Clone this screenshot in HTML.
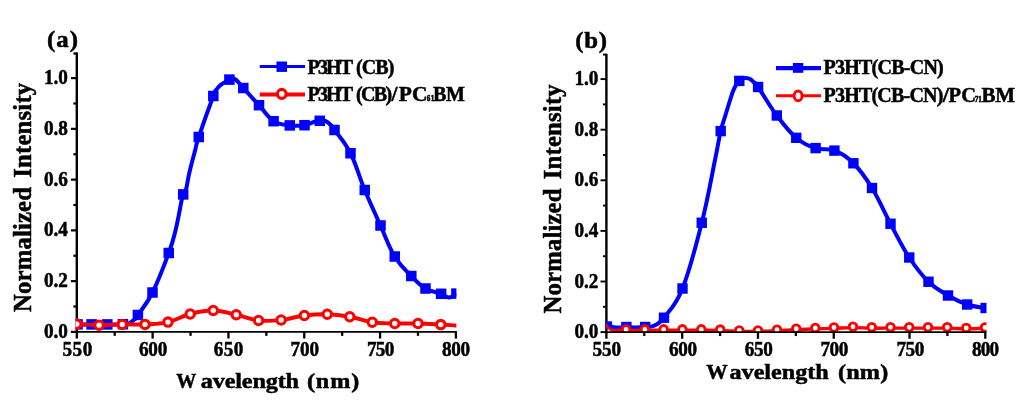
<!DOCTYPE html>
<html><head><meta charset="utf-8"><title>PL spectra</title>
<style>
html,body{margin:0;padding:0;background:#fff;}
body{width:1024px;height:416px;overflow:hidden;font-family:"Liberation Serif",serif;}
svg{display:block;will-change:transform;}
text{font-family:"Liberation Serif",serif;font-weight:bold;fill:#000;font-kerning:none;}
</style></head><body>
<svg width="1024" height="416" viewBox="0 0 1024 416">
<rect width="1024" height="416" fill="#fff"/>
<line x1="76.80" y1="52.45" x2="76.80" y2="333.10" stroke="#000" stroke-width="2.40"/>
<clipPath id="clipa"><rect x="75.60" y="52.45" width="380.80" height="279.45"/></clipPath>
<g clip-path="url(#clipa)">
<path d="M77.50 324.40 C80.32 324.40 85.64 324.40 91.60 324.40 C97.56 324.40 101.04 324.44 107.30 324.40 C113.56 324.36 118.56 324.42 122.90 324.20 C127.24 323.98 126.88 324.10 129.00 323.30 C131.12 322.50 131.72 321.86 133.50 320.20 C135.28 318.54 134.10 320.54 137.90 315.00 C141.70 309.46 146.33 304.90 152.50 292.50 C158.67 280.10 164.13 265.50 168.75 253.00 C173.37 240.50 172.99 240.70 175.60 230.00 C178.21 219.30 180.28 206.62 181.80 199.50 C183.32 192.38 182.34 196.50 183.20 194.40 C184.06 192.30 184.88 193.28 186.10 189.00 C187.32 184.72 187.48 180.80 189.30 173.00 C191.12 165.20 193.31 157.20 195.20 150.00 C197.09 142.80 195.13 147.80 198.75 137.00 C202.37 126.20 209.79 105.40 213.30 96.00 C216.81 86.60 215.06 92.00 216.30 90.00 C217.54 88.00 217.92 87.48 219.50 86.00 C221.08 84.52 222.22 83.88 224.20 82.60 C226.18 81.32 227.74 80.42 229.40 79.60 C231.06 78.78 231.28 78.52 232.50 78.50 C233.72 78.48 234.20 78.60 235.50 79.50 C236.80 80.40 237.44 81.30 239.00 83.00 C240.56 84.70 239.30 83.56 243.30 88.00 C247.30 92.44 252.94 98.56 259.00 105.20 C265.06 111.84 267.44 117.16 273.60 121.20 C279.76 125.24 283.62 124.60 289.80 125.40 C295.98 126.20 299.66 125.92 304.50 125.20 C309.34 124.48 310.95 122.68 314.00 121.80 C317.05 120.92 317.49 120.98 319.75 120.80 C322.01 120.62 323.25 120.20 325.30 120.90 C327.35 121.60 328.16 122.48 330.00 124.30 C331.84 126.12 330.40 124.21 334.50 130.00 C338.60 135.79 344.45 141.25 350.50 153.25 C356.55 165.25 358.75 175.55 364.75 190.00 C370.75 204.45 374.50 212.20 380.50 225.50 C386.50 238.80 388.59 246.40 394.75 256.50 C400.91 266.60 405.15 269.60 411.30 276.00 C417.45 282.40 419.54 284.94 425.50 288.50 C431.46 292.06 436.40 291.98 441.10 293.80 C445.80 295.62 445.94 297.64 449.00 297.60 C452.06 297.56 454.92 294.40 456.40 293.60" fill="none" stroke="#0000ff" stroke-width="4.00" stroke-linejoin="round"/>
<rect x="72.25" y="319.15" width="10.50" height="10.50" fill="#0000ff"/>
<rect x="86.35" y="319.15" width="10.50" height="10.50" fill="#0000ff"/>
<rect x="102.05" y="319.15" width="10.50" height="10.50" fill="#0000ff"/>
<rect x="117.65" y="318.95" width="10.50" height="10.50" fill="#0000ff"/>
<rect x="132.65" y="309.75" width="10.50" height="10.50" fill="#0000ff"/>
<rect x="147.25" y="287.25" width="10.50" height="10.50" fill="#0000ff"/>
<rect x="163.50" y="247.75" width="10.50" height="10.50" fill="#0000ff"/>
<rect x="177.95" y="189.15" width="10.50" height="10.50" fill="#0000ff"/>
<rect x="193.50" y="131.75" width="10.50" height="10.50" fill="#0000ff"/>
<rect x="208.05" y="90.75" width="10.50" height="10.50" fill="#0000ff"/>
<rect x="224.15" y="74.35" width="10.50" height="10.50" fill="#0000ff"/>
<rect x="238.05" y="82.75" width="10.50" height="10.50" fill="#0000ff"/>
<rect x="253.75" y="99.95" width="10.50" height="10.50" fill="#0000ff"/>
<rect x="268.35" y="115.95" width="10.50" height="10.50" fill="#0000ff"/>
<rect x="284.55" y="120.15" width="10.50" height="10.50" fill="#0000ff"/>
<rect x="299.25" y="119.95" width="10.50" height="10.50" fill="#0000ff"/>
<rect x="314.50" y="115.55" width="10.50" height="10.50" fill="#0000ff"/>
<rect x="329.25" y="124.75" width="10.50" height="10.50" fill="#0000ff"/>
<rect x="345.25" y="148.00" width="10.50" height="10.50" fill="#0000ff"/>
<rect x="359.50" y="184.75" width="10.50" height="10.50" fill="#0000ff"/>
<rect x="375.25" y="220.25" width="10.50" height="10.50" fill="#0000ff"/>
<rect x="389.50" y="251.25" width="10.50" height="10.50" fill="#0000ff"/>
<rect x="406.05" y="270.75" width="10.50" height="10.50" fill="#0000ff"/>
<rect x="420.25" y="283.25" width="10.50" height="10.50" fill="#0000ff"/>
<rect x="435.85" y="288.55" width="10.50" height="10.50" fill="#0000ff"/>
<rect x="451.15" y="288.35" width="10.50" height="10.50" fill="#0000ff"/>
<path d="M76.80 324.10 C81.26 324.32 90.00 325.14 99.10 325.20 C108.20 325.26 113.12 324.56 122.30 324.40 C131.48 324.24 135.86 324.86 145.00 324.40 C154.14 323.94 158.96 324.18 168.00 322.10 C177.04 320.02 181.15 316.32 190.20 314.00 C199.25 311.68 204.04 310.35 213.25 310.50 C222.46 310.65 227.18 312.75 236.25 314.75 C245.32 316.75 249.63 319.45 258.60 320.50 C267.57 321.55 271.94 321.00 281.10 320.00 C290.26 319.00 295.17 316.65 304.40 315.50 C313.63 314.35 318.18 314.00 327.25 314.25 C336.32 314.50 340.75 315.15 349.75 316.75 C358.75 318.35 363.25 320.90 372.25 322.25 C381.25 323.60 385.60 323.25 394.75 323.50 C403.90 323.75 408.79 323.28 418.00 323.50 C427.21 323.72 433.00 324.18 440.80 324.60 C448.60 325.02 453.76 325.40 457.00 325.60" fill="none" stroke="#ff0000" stroke-width="3.90" stroke-linejoin="round"/>
<circle cx="76.80" cy="324.10" r="4.20" fill="#fff" stroke="#ff0000" stroke-width="3.10"/>
<circle cx="99.10" cy="325.20" r="4.20" fill="#fff" stroke="#ff0000" stroke-width="3.10"/>
<circle cx="122.30" cy="324.40" r="4.20" fill="#fff" stroke="#ff0000" stroke-width="3.10"/>
<circle cx="145.00" cy="324.40" r="4.20" fill="#fff" stroke="#ff0000" stroke-width="3.10"/>
<circle cx="168.00" cy="322.10" r="4.20" fill="#fff" stroke="#ff0000" stroke-width="3.10"/>
<circle cx="190.20" cy="314.00" r="4.20" fill="#fff" stroke="#ff0000" stroke-width="3.10"/>
<circle cx="213.25" cy="310.50" r="4.20" fill="#fff" stroke="#ff0000" stroke-width="3.10"/>
<circle cx="236.25" cy="314.75" r="4.20" fill="#fff" stroke="#ff0000" stroke-width="3.10"/>
<circle cx="258.60" cy="320.50" r="4.20" fill="#fff" stroke="#ff0000" stroke-width="3.10"/>
<circle cx="281.10" cy="320.00" r="4.20" fill="#fff" stroke="#ff0000" stroke-width="3.10"/>
<circle cx="304.40" cy="315.50" r="4.20" fill="#fff" stroke="#ff0000" stroke-width="3.10"/>
<circle cx="327.25" cy="314.25" r="4.20" fill="#fff" stroke="#ff0000" stroke-width="3.10"/>
<circle cx="349.75" cy="316.75" r="4.20" fill="#fff" stroke="#ff0000" stroke-width="3.10"/>
<circle cx="372.25" cy="322.25" r="4.20" fill="#fff" stroke="#ff0000" stroke-width="3.10"/>
<circle cx="394.75" cy="323.50" r="4.20" fill="#fff" stroke="#ff0000" stroke-width="3.10"/>
<circle cx="418.00" cy="323.50" r="4.20" fill="#fff" stroke="#ff0000" stroke-width="3.10"/>
<circle cx="440.80" cy="324.60" r="4.20" fill="#fff" stroke="#ff0000" stroke-width="3.10"/>
</g>
<line x1="75.60" y1="331.90" x2="456.90" y2="331.90" stroke="#000" stroke-width="1.90"/>
<line x1="70.90" y1="331.90" x2="76.80" y2="331.90" stroke="#000" stroke-width="2.20"/>
<text transform="translate(44.00 337.90) scale(0.9600 1)" font-size="20.00" textLength="24.84" lengthAdjust="spacing" stroke="#000" stroke-width="0.50">0.0</text>
<line x1="73.40" y1="306.52" x2="76.80" y2="306.52" stroke="#000" stroke-width="2.20"/>
<line x1="70.90" y1="281.14" x2="76.80" y2="281.14" stroke="#000" stroke-width="2.20"/>
<text transform="translate(44.00 287.14) scale(0.9600 1)" font-size="20.00" textLength="24.84" lengthAdjust="spacing" stroke="#000" stroke-width="0.50">0.2</text>
<line x1="73.40" y1="255.76" x2="76.80" y2="255.76" stroke="#000" stroke-width="2.20"/>
<line x1="70.90" y1="230.38" x2="76.80" y2="230.38" stroke="#000" stroke-width="2.20"/>
<text transform="translate(44.00 236.38) scale(0.9600 1)" font-size="20.00" textLength="24.84" lengthAdjust="spacing" stroke="#000" stroke-width="0.50">0.4</text>
<line x1="73.40" y1="205.00" x2="76.80" y2="205.00" stroke="#000" stroke-width="2.20"/>
<line x1="70.90" y1="179.62" x2="76.80" y2="179.62" stroke="#000" stroke-width="2.20"/>
<text transform="translate(44.00 185.62) scale(0.9600 1)" font-size="20.00" textLength="24.84" lengthAdjust="spacing" stroke="#000" stroke-width="0.50">0.6</text>
<line x1="73.40" y1="154.24" x2="76.80" y2="154.24" stroke="#000" stroke-width="2.20"/>
<line x1="70.90" y1="128.86" x2="76.80" y2="128.86" stroke="#000" stroke-width="2.20"/>
<text transform="translate(44.00 134.86) scale(0.9600 1)" font-size="20.00" textLength="24.84" lengthAdjust="spacing" stroke="#000" stroke-width="0.50">0.8</text>
<line x1="73.40" y1="103.48" x2="76.80" y2="103.48" stroke="#000" stroke-width="2.20"/>
<line x1="70.90" y1="78.10" x2="76.80" y2="78.10" stroke="#000" stroke-width="2.20"/>
<text transform="translate(44.00 84.10) scale(0.9600 1)" font-size="20.00" textLength="24.84" lengthAdjust="spacing" stroke="#000" stroke-width="0.50">1.0</text>
<line x1="73.40" y1="53.50" x2="76.80" y2="53.50" stroke="#000" stroke-width="2.20"/>
<line x1="76.80" y1="331.90" x2="76.80" y2="338.55" stroke="#000" stroke-width="2.30"/>
<line x1="114.71" y1="331.90" x2="114.71" y2="335.85" stroke="#000" stroke-width="2.30"/>
<line x1="152.62" y1="331.90" x2="152.62" y2="338.55" stroke="#000" stroke-width="2.30"/>
<line x1="190.53" y1="331.90" x2="190.53" y2="335.85" stroke="#000" stroke-width="2.30"/>
<line x1="228.44" y1="331.90" x2="228.44" y2="338.55" stroke="#000" stroke-width="2.30"/>
<line x1="266.35" y1="331.90" x2="266.35" y2="335.85" stroke="#000" stroke-width="2.30"/>
<line x1="304.26" y1="331.90" x2="304.26" y2="338.55" stroke="#000" stroke-width="2.30"/>
<line x1="342.17" y1="331.90" x2="342.17" y2="335.85" stroke="#000" stroke-width="2.30"/>
<line x1="380.08" y1="331.90" x2="380.08" y2="338.55" stroke="#000" stroke-width="2.30"/>
<line x1="417.99" y1="331.90" x2="417.99" y2="335.85" stroke="#000" stroke-width="2.30"/>
<line x1="455.90" y1="331.90" x2="455.90" y2="338.55" stroke="#000" stroke-width="2.30"/>
<text transform="translate(47.05 46.90) scale(1.0800 1)" font-size="23.00" textLength="28.61" lengthAdjust="spacing" stroke="#000" stroke-width="0.50">(a)</text>
<text transform="translate(307.50 73.75)" font-size="20.00" textLength="45.65" lengthAdjust="spacing" stroke="#000" stroke-width="0.50">P3HT</text>
<text transform="translate(356.00 73.75)" font-size="20.00" textLength="38.50" lengthAdjust="spacing" stroke="#000" stroke-width="0.50">(CB)</text>
<text transform="translate(307.50 100.90)" font-size="20.00" textLength="45.65" lengthAdjust="spacing" stroke="#000" stroke-width="0.50">P3HT</text>
<text transform="translate(356.00 100.90)" font-size="20.00" textLength="36.25" lengthAdjust="spacing" stroke="#000" stroke-width="0.50">(CB)</text>
<text transform="translate(391.50 100.90) scale(1.0769 1)" font-size="20.00" stroke="#000" stroke-width="0.50">/</text>
<text transform="translate(398.80 100.90) scale(1.0700 1)" font-size="20.00" textLength="26.87" lengthAdjust="spacing" stroke="#000" stroke-width="0.50">PC</text>
<text transform="translate(426.70 101.20)" font-size="7.20" textLength="7.60" lengthAdjust="spacing" stroke="#000" stroke-width="0.50">61</text>
<text transform="translate(432.90 100.90)" font-size="20.00" textLength="32.00" lengthAdjust="spacing" stroke="#000" stroke-width="0.50">BM</text>
<text transform="translate(176.25 388.20) scale(0.9107 1)" font-size="22.00" stroke="#000" stroke-width="0.50">W</text>
<text transform="translate(200.75 388.20) scale(1.1000 1)" font-size="22.00" textLength="89.32" lengthAdjust="spacing" stroke="#000" stroke-width="0.50">avelength</text>
<text transform="translate(306.95 388.20) scale(1.1000 1)" font-size="22.00" textLength="47.50" lengthAdjust="spacing" stroke="#000" stroke-width="0.50">(nm)</text>
<text transform="translate(62.50 356.00) scale(0.9600 1)" font-size="20.00" textLength="30.99" lengthAdjust="spacing" stroke="#000" stroke-width="0.50">550</text>
<text transform="translate(139.00 356.00) scale(0.9600 1)" font-size="20.00" textLength="29.43" lengthAdjust="spacing" stroke="#000" stroke-width="0.50">600</text>
<text transform="translate(213.80 356.00) scale(0.9600 1)" font-size="20.00" textLength="30.73" lengthAdjust="spacing" stroke="#000" stroke-width="0.50">650</text>
<text transform="translate(290.55 356.00) scale(0.9600 1)" font-size="20.00" textLength="29.64" lengthAdjust="spacing" stroke="#000" stroke-width="0.50">700</text>
<text transform="translate(367.05 356.00) scale(0.9600 1)" font-size="20.00" textLength="28.39" lengthAdjust="spacing" stroke="#000" stroke-width="0.50">750</text>
<text transform="translate(442.10 356.00) scale(0.9600 1)" font-size="20.00" textLength="29.22" lengthAdjust="spacing" stroke="#000" stroke-width="0.50">800</text>
<text transform="translate(31.00 312.00) rotate(-90) scale(0.9500 1)" font-size="26.00" textLength="131.58" lengthAdjust="spacing" stroke="#000" stroke-width="0.50">Normalized</text>
<text transform="translate(31.00 177.80) rotate(-90) scale(0.9500 1)" font-size="26.00" textLength="100.00" lengthAdjust="spacing" stroke="#000" stroke-width="0.50">Intensity</text>
<line x1="259.75" y1="66.50" x2="305.00" y2="66.50" stroke="#0000ff" stroke-width="3.00"/>
<rect x="276.47" y="61.50" width="10.60" height="10.40" fill="#0000ff"/>
<line x1="259.75" y1="94.50" x2="305.00" y2="94.50" stroke="#ff0000" stroke-width="4.00"/>
<ellipse cx="281.77" cy="93.90" rx="4.35" ry="4.45" fill="#fff" stroke="#ff0000" stroke-width="3.20"/>
<line x1="606.40" y1="53.65" x2="606.40" y2="333.30" stroke="#000" stroke-width="2.40"/>
<clipPath id="clipb"><rect x="605.90" y="53.65" width="380.60" height="278.45"/></clipPath>
<g clip-path="url(#clipb)">
<path d="M606.90 325.10 C607.72 325.40 609.18 326.12 611.00 326.60 C612.82 327.08 614.00 327.34 616.00 327.50 C618.00 327.66 618.92 327.50 621.00 327.40 C623.08 327.30 623.40 327.00 626.40 327.00 C629.40 327.00 632.24 327.40 636.00 327.40 C639.76 327.40 642.00 327.20 645.20 327.00 C648.40 326.80 649.64 326.96 652.00 326.40 C654.36 325.84 655.30 325.20 657.00 324.20 C658.70 323.20 659.10 322.70 660.50 321.40 C661.90 320.10 659.60 324.28 664.00 317.70 C668.40 311.12 674.95 307.49 682.50 288.50 C690.05 269.51 695.25 248.45 701.75 222.75 C708.25 197.05 711.21 178.33 715.00 160.00 C718.79 141.67 718.56 140.22 720.70 131.10 C722.84 121.98 723.82 120.62 725.70 114.40 C727.58 108.18 728.58 104.78 730.10 100.00 C731.62 95.22 732.06 93.58 733.30 90.50 C734.54 87.42 735.10 86.52 736.30 84.60 C737.50 82.68 738.06 82.10 739.30 80.90 C740.54 79.70 741.16 79.20 742.50 78.60 C743.84 78.00 744.50 77.82 746.00 77.90 C747.50 77.98 748.40 78.06 750.00 79.00 C751.60 79.94 752.38 81.00 754.00 82.60 C755.62 84.20 753.54 80.42 758.10 87.00 C762.66 93.58 769.17 105.34 776.80 115.50 C784.43 125.66 788.49 131.28 796.25 137.80 C804.01 144.32 807.97 145.54 815.60 148.10 C823.23 150.66 826.84 147.57 834.40 150.60 C841.96 153.63 845.88 155.77 853.40 163.25 C860.92 170.73 864.58 175.90 872.00 188.00 C879.42 200.10 883.05 209.85 890.50 223.75 C897.95 237.65 901.65 245.90 909.25 257.50 C916.85 269.10 920.75 274.15 928.50 281.75 C936.25 289.35 940.26 290.95 948.00 295.50 C955.74 300.05 959.68 302.00 967.20 304.50 C974.72 307.00 981.92 307.30 985.60 308.00" fill="none" stroke="#0000ff" stroke-width="4.00" stroke-linejoin="round"/>
<rect x="601.70" y="321.30" width="10.40" height="7.60" fill="#0000ff"/>
<rect x="621.20" y="321.80" width="10.40" height="10.40" fill="#0000ff"/>
<rect x="640.00" y="321.80" width="10.40" height="10.40" fill="#0000ff"/>
<rect x="658.80" y="312.50" width="10.40" height="10.40" fill="#0000ff"/>
<rect x="677.30" y="283.30" width="10.40" height="10.40" fill="#0000ff"/>
<rect x="696.55" y="217.55" width="10.40" height="10.40" fill="#0000ff"/>
<rect x="715.50" y="125.90" width="10.40" height="10.40" fill="#0000ff"/>
<rect x="734.10" y="75.70" width="10.40" height="10.40" fill="#0000ff"/>
<rect x="752.90" y="81.80" width="10.40" height="10.40" fill="#0000ff"/>
<rect x="771.60" y="110.30" width="10.40" height="10.40" fill="#0000ff"/>
<rect x="791.05" y="132.60" width="10.40" height="10.40" fill="#0000ff"/>
<rect x="810.40" y="142.90" width="10.40" height="10.40" fill="#0000ff"/>
<rect x="829.20" y="145.40" width="10.40" height="10.40" fill="#0000ff"/>
<rect x="848.20" y="158.05" width="10.40" height="10.40" fill="#0000ff"/>
<rect x="866.80" y="182.80" width="10.40" height="10.40" fill="#0000ff"/>
<rect x="885.30" y="218.55" width="10.40" height="10.40" fill="#0000ff"/>
<rect x="904.05" y="252.30" width="10.40" height="10.40" fill="#0000ff"/>
<rect x="923.30" y="276.55" width="10.40" height="10.40" fill="#0000ff"/>
<rect x="942.80" y="290.30" width="10.40" height="10.40" fill="#0000ff"/>
<rect x="962.00" y="299.30" width="10.40" height="10.40" fill="#0000ff"/>
<rect x="980.40" y="302.80" width="10.40" height="10.40" fill="#0000ff"/>
<path d="M613.00 330.40 C615.62 330.40 619.72 330.42 626.10 330.40 C632.48 330.38 637.40 330.32 644.90 330.30 C652.40 330.28 656.10 330.30 663.60 330.30 C671.10 330.30 674.86 330.30 682.40 330.30 C689.94 330.30 693.74 330.26 701.30 330.30 C708.86 330.34 712.61 330.28 720.20 330.50 C727.79 330.72 731.69 331.22 739.25 331.40 C746.81 331.58 750.45 331.55 758.00 331.40 C765.55 331.25 769.35 331.00 777.00 330.65 C784.65 330.30 788.59 330.00 796.25 329.65 C803.91 329.30 807.75 329.15 815.30 328.90 C822.85 328.65 826.46 328.65 834.00 328.40 C841.54 328.15 845.45 327.70 853.00 327.65 C860.55 327.60 864.25 328.05 871.75 328.15 C879.25 328.25 883.00 328.15 890.50 328.15 C898.00 328.15 901.75 328.15 909.25 328.15 C916.75 328.15 920.40 328.15 928.00 328.15 C935.60 328.15 939.60 328.00 947.25 328.15 C954.90 328.30 958.70 328.85 966.25 328.90 C973.80 328.95 981.25 328.50 985.00 328.40" fill="none" stroke="#ff0000" stroke-width="3.40" stroke-linejoin="round"/>
<path d="M603.50 322.30 C603.98 322.84 605.00 323.96 605.90 325.00 C606.80 326.04 607.08 326.60 608.00 327.50 C608.92 328.40 609.30 328.92 610.50 329.50 C611.70 330.08 612.50 330.22 614.00 330.40 C615.50 330.58 617.20 330.40 618.00 330.40" fill="none" stroke="#ff0000" stroke-width="2.60" stroke-linejoin="round"/>
<circle cx="626.10" cy="329.50" r="3.85" fill="#fff" stroke="#ff0000" stroke-width="2.90"/>
<circle cx="644.90" cy="329.40" r="3.85" fill="#fff" stroke="#ff0000" stroke-width="2.90"/>
<circle cx="663.60" cy="329.40" r="3.85" fill="#fff" stroke="#ff0000" stroke-width="2.90"/>
<circle cx="682.40" cy="329.40" r="3.85" fill="#fff" stroke="#ff0000" stroke-width="2.90"/>
<circle cx="701.30" cy="329.40" r="3.85" fill="#fff" stroke="#ff0000" stroke-width="2.90"/>
<circle cx="720.20" cy="329.60" r="3.85" fill="#fff" stroke="#ff0000" stroke-width="2.90"/>
<circle cx="739.25" cy="330.50" r="3.85" fill="#fff" stroke="#ff0000" stroke-width="2.90"/>
<circle cx="758.00" cy="330.50" r="3.85" fill="#fff" stroke="#ff0000" stroke-width="2.90"/>
<circle cx="777.00" cy="329.75" r="3.85" fill="#fff" stroke="#ff0000" stroke-width="2.90"/>
<circle cx="796.25" cy="328.75" r="3.85" fill="#fff" stroke="#ff0000" stroke-width="2.90"/>
<circle cx="815.30" cy="328.00" r="3.85" fill="#fff" stroke="#ff0000" stroke-width="2.90"/>
<circle cx="834.00" cy="327.50" r="3.85" fill="#fff" stroke="#ff0000" stroke-width="2.90"/>
<circle cx="853.00" cy="326.75" r="3.85" fill="#fff" stroke="#ff0000" stroke-width="2.90"/>
<circle cx="871.75" cy="327.25" r="3.85" fill="#fff" stroke="#ff0000" stroke-width="2.90"/>
<circle cx="890.50" cy="327.25" r="3.85" fill="#fff" stroke="#ff0000" stroke-width="2.90"/>
<circle cx="909.25" cy="327.25" r="3.85" fill="#fff" stroke="#ff0000" stroke-width="2.90"/>
<circle cx="928.00" cy="327.25" r="3.85" fill="#fff" stroke="#ff0000" stroke-width="2.90"/>
<circle cx="947.25" cy="327.25" r="3.85" fill="#fff" stroke="#ff0000" stroke-width="2.90"/>
<circle cx="966.25" cy="328.00" r="3.85" fill="#fff" stroke="#ff0000" stroke-width="2.90"/>
<circle cx="985.00" cy="327.50" r="3.85" fill="#fff" stroke="#ff0000" stroke-width="2.90"/>
</g>
<line x1="605.20" y1="332.10" x2="986.40" y2="332.10" stroke="#000" stroke-width="1.90"/>
<line x1="600.50" y1="332.10" x2="606.40" y2="332.10" stroke="#000" stroke-width="1.90"/>
<text transform="translate(574.50 338.10) scale(0.9600 1)" font-size="20.00" textLength="24.74" lengthAdjust="spacing" stroke="#000" stroke-width="0.50">0.0</text>
<line x1="603.00" y1="306.80" x2="606.40" y2="306.80" stroke="#000" stroke-width="1.90"/>
<line x1="600.50" y1="281.50" x2="606.40" y2="281.50" stroke="#000" stroke-width="1.90"/>
<text transform="translate(574.50 287.50) scale(0.9600 1)" font-size="20.00" textLength="24.74" lengthAdjust="spacing" stroke="#000" stroke-width="0.50">0.2</text>
<line x1="603.00" y1="256.20" x2="606.40" y2="256.20" stroke="#000" stroke-width="1.90"/>
<line x1="600.50" y1="230.90" x2="606.40" y2="230.90" stroke="#000" stroke-width="1.90"/>
<text transform="translate(574.50 236.90) scale(0.9600 1)" font-size="20.00" textLength="24.74" lengthAdjust="spacing" stroke="#000" stroke-width="0.50">0.4</text>
<line x1="603.00" y1="205.60" x2="606.40" y2="205.60" stroke="#000" stroke-width="1.90"/>
<line x1="600.50" y1="180.30" x2="606.40" y2="180.30" stroke="#000" stroke-width="1.90"/>
<text transform="translate(574.50 186.30) scale(0.9600 1)" font-size="20.00" textLength="24.74" lengthAdjust="spacing" stroke="#000" stroke-width="0.50">0.6</text>
<line x1="603.00" y1="155.00" x2="606.40" y2="155.00" stroke="#000" stroke-width="1.90"/>
<line x1="600.50" y1="129.70" x2="606.40" y2="129.70" stroke="#000" stroke-width="1.90"/>
<text transform="translate(574.50 135.70) scale(0.9600 1)" font-size="20.00" textLength="24.74" lengthAdjust="spacing" stroke="#000" stroke-width="0.50">0.8</text>
<line x1="603.00" y1="104.40" x2="606.40" y2="104.40" stroke="#000" stroke-width="1.90"/>
<line x1="600.50" y1="79.10" x2="606.40" y2="79.10" stroke="#000" stroke-width="1.90"/>
<text transform="translate(574.50 85.10) scale(0.9600 1)" font-size="20.00" textLength="24.74" lengthAdjust="spacing" stroke="#000" stroke-width="0.50">1.0</text>
<line x1="603.00" y1="54.60" x2="606.40" y2="54.60" stroke="#000" stroke-width="1.90"/>
<line x1="606.40" y1="332.10" x2="606.40" y2="338.75" stroke="#000" stroke-width="2.30"/>
<line x1="644.29" y1="332.10" x2="644.29" y2="336.05" stroke="#000" stroke-width="2.30"/>
<line x1="682.18" y1="332.10" x2="682.18" y2="338.75" stroke="#000" stroke-width="2.30"/>
<line x1="720.07" y1="332.10" x2="720.07" y2="336.05" stroke="#000" stroke-width="2.30"/>
<line x1="757.96" y1="332.10" x2="757.96" y2="338.75" stroke="#000" stroke-width="2.30"/>
<line x1="795.85" y1="332.10" x2="795.85" y2="336.05" stroke="#000" stroke-width="2.30"/>
<line x1="833.74" y1="332.10" x2="833.74" y2="338.75" stroke="#000" stroke-width="2.30"/>
<line x1="909.52" y1="332.10" x2="909.52" y2="338.75" stroke="#000" stroke-width="2.30"/>
<line x1="947.41" y1="332.10" x2="947.41" y2="336.05" stroke="#000" stroke-width="2.30"/>
<line x1="985.30" y1="332.10" x2="985.30" y2="338.75" stroke="#000" stroke-width="2.30"/>
<text transform="translate(575.15 47.90) scale(1.0800 1)" font-size="23.00" textLength="29.54" lengthAdjust="spacing" stroke="#000" stroke-width="0.50">(b)</text>
<text transform="translate(823.50 73.75)" font-size="20.00" textLength="120.25" lengthAdjust="spacing" stroke="#000" stroke-width="0.50">P3HT(CB-CN)</text>
<text transform="translate(823.50 101.80)" font-size="20.00" textLength="119.90" lengthAdjust="spacing" stroke="#000" stroke-width="0.50">P3HT(CB-CN)</text>
<text transform="translate(942.70 101.80) scale(1.1312 1)" font-size="20.00" stroke="#000" stroke-width="0.50">/</text>
<text transform="translate(948.40 101.80) scale(1.0200 1)" font-size="20.00" textLength="26.96" lengthAdjust="spacing" stroke="#000" stroke-width="0.50">PC</text>
<text transform="translate(974.80 102.20)" font-size="7.20" textLength="7.00" lengthAdjust="spacing" stroke="#000" stroke-width="0.50">71</text>
<text transform="translate(981.40 101.80) scale(1.0500 1)" font-size="20.00" textLength="32.14" lengthAdjust="spacing" stroke="#000" stroke-width="0.50">BM</text>
<text transform="translate(706.25 379.00) scale(0.9728 1)" font-size="22.00" stroke="#000" stroke-width="0.50">W</text>
<text transform="translate(729.50 379.00) scale(1.1000 1)" font-size="22.00" textLength="90.23" lengthAdjust="spacing" stroke="#000" stroke-width="0.50">avelength</text>
<text transform="translate(838.00 379.00) scale(1.1000 1)" font-size="22.00" textLength="45.68" lengthAdjust="spacing" stroke="#000" stroke-width="0.50">(nm)</text>
<text transform="translate(592.60 356.00) scale(0.9600 1)" font-size="20.00" textLength="29.79" lengthAdjust="spacing" stroke="#000" stroke-width="0.50">550</text>
<text transform="translate(669.10 356.00) scale(0.9600 1)" font-size="20.00" textLength="29.17" lengthAdjust="spacing" stroke="#000" stroke-width="0.50">600</text>
<text transform="translate(744.70 356.00) scale(0.9600 1)" font-size="20.00" textLength="29.38" lengthAdjust="spacing" stroke="#000" stroke-width="0.50">650</text>
<text transform="translate(820.55 356.00) scale(0.9600 1)" font-size="20.00" textLength="28.91" lengthAdjust="spacing" stroke="#000" stroke-width="0.50">700</text>
<text transform="translate(896.45 356.00) scale(0.9600 1)" font-size="20.00" textLength="28.96" lengthAdjust="spacing" stroke="#000" stroke-width="0.50">750</text>
<text transform="translate(972.10 356.00) scale(0.9600 1)" font-size="20.00" textLength="28.12" lengthAdjust="spacing" stroke="#000" stroke-width="0.50">800</text>
<text transform="translate(561.00 313.50) rotate(-90) scale(0.9500 1)" font-size="26.00" textLength="131.58" lengthAdjust="spacing" stroke="#000" stroke-width="0.50">Normalized</text>
<text transform="translate(561.00 179.30) rotate(-90) scale(0.9500 1)" font-size="26.00" textLength="100.00" lengthAdjust="spacing" stroke="#000" stroke-width="0.50">Intensity</text>
<line x1="776.00" y1="68.10" x2="821.00" y2="68.10" stroke="#0000ff" stroke-width="4.20"/>
<rect x="792.90" y="63.00" width="10.40" height="9.80" fill="#0000ff"/>
<line x1="776.00" y1="95.80" x2="821.00" y2="95.80" stroke="#ff0000" stroke-width="3.00"/>
<ellipse cx="798.10" cy="95.90" rx="3.98" ry="4.85" fill="#fff" stroke="#ff0000" stroke-width="2.90"/>
</svg>
</body></html>
